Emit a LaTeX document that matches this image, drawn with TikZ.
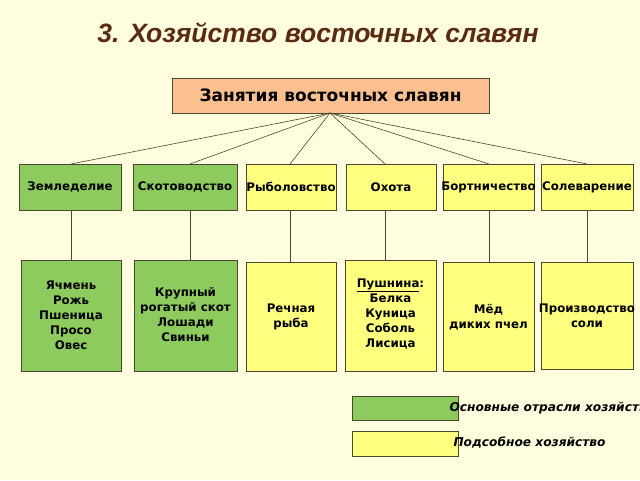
\documentclass[tikz,border=0pt]{standalone}
\usepackage{fontspec}
\setmainfont{DejaVu Sans}
\newfontfamily\titlefont{Liberation Sans}
\definecolor{bg}{HTML}{FFFFE0}
\definecolor{gr}{HTML}{8DCB5F}
\definecolor{ye}{HTML}{FFFF80}
\definecolor{og}{HTML}{FAC08F}
\definecolor{tt}{HTML}{5A2A12}
\definecolor{ln}{HTML}{4A4A2A}
\tikzset{
 bx/.style={draw=ln,line width=0.8pt,inner sep=0pt,font=\bfseries\fontsize{10}{12}\selectfont,align=center},
 gbox/.style={bx,fill=gr}, ybox/.style={bx,fill=ye},
 cn/.style={draw=ln,line width=0.6pt}
}
\newcommand{\bxat}[6]{\node[#1,minimum width=#4-#3,minimum height=#6-#5] (#2) at ({(#3+#4)/2},{(#5+#6)/2}) {};}
\begin{document}
\begin{tikzpicture}[x=1pt,y=-1pt]
\fill[bg] (0,0) rectangle (640,480);
\clip (0,0) rectangle (640,480);
\useasboundingbox (0,0) rectangle (640,480);
\node[text=tt,font=\titlefont\bfseries\itshape\fontsize{26.5}{30}\selectfont] (title) at (318,33) {3. Хозяйство восточных славян};
\node[bx,fill=og,minimum width=317,minimum height=35,font=\bfseries\fontsize{17}{20}\selectfont] (top) at (330.5,95.5) {Занятия восточных славян};
\bxat{gbox}{a1}{19}{121}{164}{210}
\bxat{gbox}{a2}{133}{237}{164}{210}
\bxat{ybox}{a3}{246}{336}{164}{210}
\bxat{ybox}{a4}{346}{436}{164}{210}
\bxat{ybox}{a5}{443}{534}{164}{210}
\bxat{ybox}{a6}{541}{633}{164}{210}
\bxat{gbox}{b1}{21}{121}{260}{371}
\bxat{gbox}{b2}{134}{237}{260}{371}
\bxat{ybox}{b3}{246}{336}{262}{371}
\bxat{ybox}{b4}{345}{436}{260}{371}
\bxat{ybox}{b5}{443}{534}{262}{371}
\bxat{ybox}{b6}{541}{633}{262}{369}
\tikzset{lb/.style={font=\bfseries\fontsize{11.8}{15}\selectfont,align=center,inner sep=0pt}}
\node[lb] at (a1) {Земледелие};
\node[lb] at (a2) {Скотоводство};
\node[lb] at (a3) {Рыболовство};
\node[lb] at (a4) {Охота};
\node[lb] at (a5) {Бортничество};
\node[lb] at (a6) {Солеварение};
\node[lb] at (71,315) {Ячмень\\Рожь\\Пшеница\\Просо\\Овес};
\node[lb] at (185.5,315) {Крупный\\рогатый скот\\Лошади\\Свиньи};
\node[lb] at (291,317) {Речная\\рыба};
\node[lb] at (390.5,314) {\underline{Пушнина}:\\Белка\\Куница\\Соболь\\Лисица};
\node[lb] at (488.5,317) {Мёд\\диких пчел};
\node[lb] at (587,316) {Производство\\соли};
\coordinate (tb) at (330,113);
\foreach \i/\x in {1/71,2/190,3/290,4/385,5/489,6/587}{
 \draw[cn] (tb) -- (\x,164);
 \draw[cn] (a\i.south -| \x,0) -- (b\i.north -| \x,0);
}
\bxat{gbox}{lg}{352}{458}{396}{420}
\bxat{ybox}{ly}{352}{458}{431}{456}
\node[font=\bfseries\itshape\fontsize{12.2}{14}\selectfont,anchor=west] (lgt) at (446,408) {Основные отрасли хозяйства};
\node[font=\bfseries\itshape\fontsize{12.2}{14}\selectfont,anchor=west] (lyt) at (450,443) {Подсобное хозяйство};
\end{tikzpicture}
\end{document}
